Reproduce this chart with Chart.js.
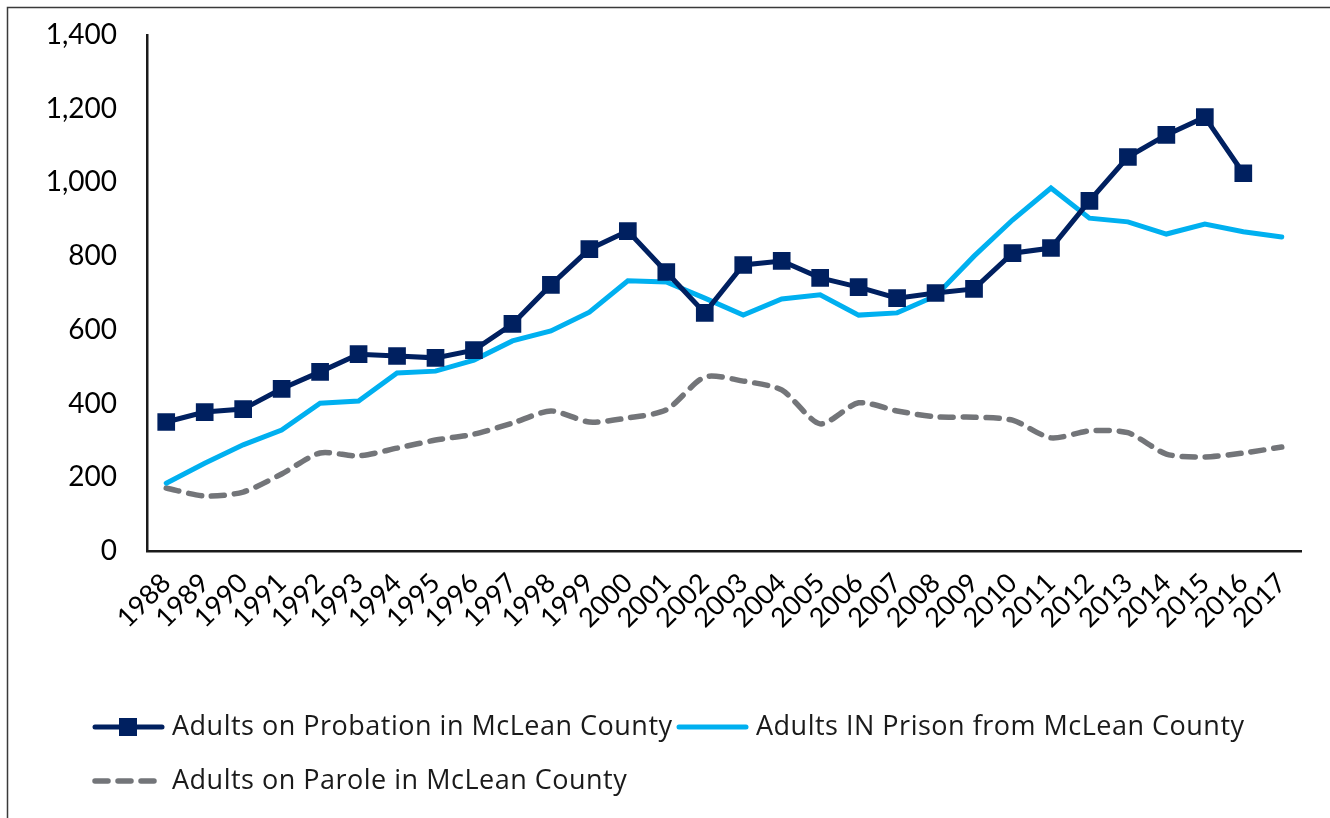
<!DOCTYPE html>
<html>
<head>
<meta charset="utf-8">
<script src="https://cdn.jsdelivr.net/npm/chart.js@4/dist/chart.umd.min.js"></script>
<style>
  html, body { margin: 0; padding: 0; background: #fff; }
  canvas { display: block; }
</style>
</head>
<body>
<canvas id="chart" width="1330" height="818"></canvas>
<script>
// Données
const years = ['1988','1989','1990','1991','1992','1993','1994','1995','1996','1997',
  '1998','1999','2000','2001','2002','2003','2004','2005','2006','2007',
  '2008','2009','2010','2011','2012','2013','2014','2015','2016','2017'];

const probation = [350, 377, 385, 440, 486, 534, 529, 524, 545, 616,
  722, 819, 868, 757, 646, 776, 787, 741, 716, 686,
  700, 711, 808, 822, 950, 1069, 1129, 1177, 1025, null];

const prison = [184, 238, 288, 328, 401, 407, 483, 488, 518, 570,
  597, 648, 733, 730, 686, 640, 684, 695, 640, 646,
  692, 800, 898, 985, 903, 893, 860, 887, 866, 852];

const parole = [171, 149, 160, 209, 266, 258, 279, 301, 317, 347,
  380, 350, 361, 383, 472, 461, 437, 345, 402, 380,
  364, 363, 355, 307, 326, 321, 263, 255, 266, 282];

const yTicks = [0, 200, 400, 600, 800, 1000, 1200, 1400];

const FONT = 'Lato, "Open Sans", sans-serif';
const LEGEND_FONT = '"Open Sans", Lato, sans-serif';

// Cadre + légende dessinés à la main (marqueur carré sur la ligne)
const framePlugin = {
  id: 'frame',
  afterDraw(chart) {
    const ctx = chart.ctx;
    ctx.save();
    ctx.strokeStyle = '#3a3a3a';
    ctx.lineWidth = 1.5;
    ctx.strokeRect(7.5, 7.5, 1340, 840);

    const items = chart.data.datasets;
    const rows = [
      { ds: items[0], x: 92, y: 727 },
      { ds: items[1], x: 676, y: 727 },
      { ds: items[2], x: 92, y: 781 }
    ];
    ctx.font = '27px ' + LEGEND_FONT;
    ctx.letterSpacing = '0.5px';
    ctx.textBaseline = 'middle';
    rows.forEach(r => {
      const ds = r.ds;
      ctx.beginPath();
      ctx.strokeStyle = ds.borderColor;
      ctx.lineWidth = ds.borderWidth;
      ctx.lineCap = 'round';
      ctx.setLineDash(ds.borderDash || []);
      ctx.moveTo(r.x + 3, r.y);
      ctx.lineTo(r.x + 70, r.y);
      ctx.stroke();
      ctx.setLineDash([]);
      if (ds.pointRadius > 0) {
        ctx.fillStyle = ds.pointBackgroundColor;
        ctx.fillRect(r.x + 27, r.y - 9, 18, 18);
      }
      ctx.fillStyle = '#1a1a1a';
      ctx.fillText(ds.label, r.x + 80, r.y);
    });
    ctx.restore();
  }
};

new Chart(document.getElementById('chart'), {
  type: 'line',
  data: {
    labels: years,
    datasets: [{
      label: 'Adults on Probation in McLean County',
      data: probation,
      borderColor: '#002060',
      backgroundColor: '#002060',
      borderWidth: 5,
      pointStyle: 'rect',
      pointRadius: 12.5,
      pointBorderWidth: 0,
      pointBackgroundColor: '#002060',
      spanGaps: false,
      tension: 0
    }, {
      label: 'Adults IN Prison from McLean County',
      data: prison,
      borderColor: '#00B0F0',
      backgroundColor: '#00B0F0',
      borderWidth: 5,
      pointRadius: 0,
      borderCapStyle: 'round',
      tension: 0
    }, {
      label: 'Adults on Parole in McLean County',
      data: parole,
      borderColor: '#737579',
      backgroundColor: '#737579',
      borderWidth: 5.5,
      borderDash: [13, 10],
      borderCapStyle: 'round',
      pointRadius: 0,
      tension: 0.25
    }]
  },
  options: {
    responsive: false,
    devicePixelRatio: 1,
    animation: false,
    layout: { padding: { top: 35, right: 29, left: 0, bottom: 0 } },
    plugins: {
      legend: { display: false },
      tooltip: { enabled: false }
    },
    scales: {
      x: {
        offset: true,
        grid: { display: false, drawTicks: false },
        border: { display: true, color: '#1a1a1a', width: 2.5 },
        ticks: {
          minRotation: 45,
          maxRotation: 45,
          autoSkip: false,
          padding: 16,
          color: '#000',
          font: { family: FONT, size: 27 }
        },
        afterFit: s => {
          s.height = 267;
          s.paddingLeft = 0;
          s.paddingRight = 0;
        }
      },
      y: {
        min: 0,
        max: 1400,
        grid: { display: false, drawTicks: false },
        border: { display: true, color: '#1a1a1a', width: 2.5 },
        afterBuildTicks: s => { s.ticks = yTicks.map(v => ({ value: v })); },
        ticks: {
          padding: 30,
          color: '#000',
          font: { family: FONT, size: 28 },
          callback: v => v.toLocaleString('en-US')
        },
        afterFit: s => {
          s.width = 147;
          s.paddingTop = 0;
          s.paddingBottom = 0;
        }
      }
    }
  },
  plugins: [framePlugin]
});
</script>
</body>
</html>
